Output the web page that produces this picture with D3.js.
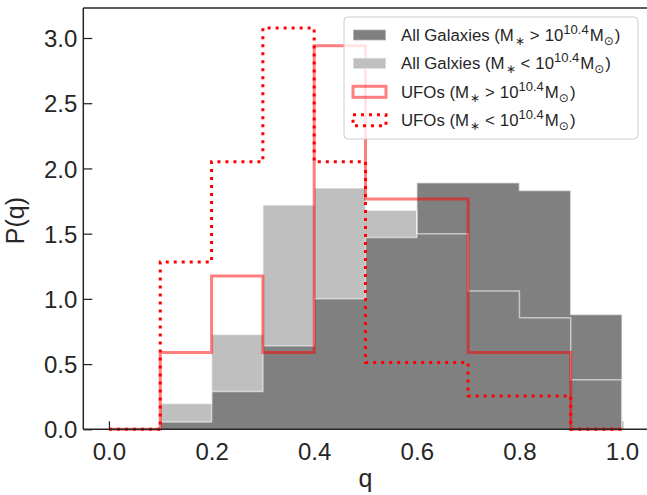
<!DOCTYPE html>
<html>
<head>
<meta charset="utf-8">
<script src="https://cdn.jsdelivr.net/npm/d3@7"></script>
<style>
  html, body { margin: 0; padding: 0; background: #fff; }
  svg { display: block; font-family: "Liberation Sans", Arial, sans-serif; }
</style>
</head>
<body>
<svg id="chart" width="647" height="495"></svg>
<script>
// Bin edges for q (axis ratio), width 0.1
const binEdges = [0, 0.1, 0.2, 0.3, 0.4, 0.5, 0.6, 0.7, 0.8, 0.9, 1.0];

// Normalised histograms P(q), one value per bin
const allGalaxiesHigh = [0, 0.056, 0.29, 0.64, 1.00, 1.47, 1.89, 1.89, 1.83, 0.88];
const allGalaxiesLow  = [0, 0.197, 0.727, 1.72, 1.85, 1.68, 1.50, 1.06, 0.855, 0.38];
const ufosHigh        = [0, 0.588, 1.176, 0.588, 2.941, 1.765, 1.765, 0.588, 0.588, 0];
const ufosLow         = [0, 1.282, 2.051, 3.077, 2.051, 0.513, 0.513, 0.256, 0.256, 0];

const xTicks = [0.0, 0.2, 0.4, 0.6, 0.8, 1.0];
const yTicks = [0.0, 0.5, 1.0, 1.5, 2.0, 2.5, 3.0];

const svg = d3.select("#chart");
const ink = "#262626";

const x = d3.scaleLinear().domain([-0.05, 1.05]).range([83.3, 647.7]);
const y = d3.scaleLinear().domain([0, 3.23]).range([429.3, 8]);

// Axes with inward ticks (drawn beneath the histograms)
const xAxis = svg.append("g")
  .attr("transform", `translate(0,${y(0)})`)
  .call(d3.axisBottom(x).tickValues(xTicks).tickFormat(d3.format(".1f"))
    .tickSizeInner(-8).tickSizeOuter(0).tickPadding(8));
const yAxis = svg.append("g")
  .attr("transform", `translate(${x.range()[0]},0)`)
  .call(d3.axisLeft(y).tickValues(yTicks).tickFormat(d3.format(".1f"))
    .tickSizeInner(-9).tickSizeOuter(0).tickPadding(6));
[xAxis, yAxis].forEach(g => {
  g.select(".domain").remove();
  g.selectAll(".tick line").attr("stroke", ink).attr("stroke-width", 1.25);
  g.selectAll(".tick text").attr("fill", ink).style("font-size", "24px")
    .style("font-family", "'Liberation Sans', Arial, sans-serif");
});
yAxis.selectAll(".tick text").attr("x", -6).attr("dy", "0.36em");
xAxis.selectAll(".tick text").attr("dy", "0.95em");

// Step path through the histogram bins, closed along the baseline
function stepPoints(vals) {
  const pts = [[binEdges[0], 0]];
  vals.forEach((v, i) => { pts.push([binEdges[i], v]); pts.push([binEdges[i + 1], v]); });
  pts.push([binEdges[binEdges.length - 1], 0]);
  return pts;
}
const line = d3.line().x(d => x(d[0])).y(d => y(d[1]));

const plot = svg.append("g");
// Filled galaxy histograms
plot.append("path").attr("d", line(stepPoints(allGalaxiesLow)) + "Z")
  .attr("fill", "#bfbfbf");
plot.append("path").attr("d", line(stepPoints(allGalaxiesHigh)) + "Z")
  .attr("fill", "#808080");
// Pale edges of the filled histograms
[allGalaxiesLow, allGalaxiesHigh].forEach(vals => {
  plot.append("path").attr("d", line(stepPoints(vals)))
    .attr("fill", "none").attr("stroke", "#ffffff").attr("stroke-opacity", 0.55)
    .attr("stroke-width", 1.5);
});
// UFO step outlines
plot.append("path").attr("d", line(stepPoints(ufosHigh)))
  .attr("fill", "none").attr("stroke", "red").attr("stroke-opacity", 0.5)
  .attr("stroke-width", 3);
plot.append("path").attr("d", line(stepPoints(ufosLow)))
  .attr("fill", "none").attr("stroke", "red")
  .attr("stroke-width", 3).attr("stroke-dasharray", "3,5");

// Spines
svg.append("line").attr("x1", x.range()[0]).attr("x2", 647)
  .attr("y1", y(0)).attr("y2", y(0)).attr("stroke", ink).attr("stroke-width", 1.5);
svg.append("line").attr("x1", x.range()[0]).attr("x2", 647)
  .attr("y1", 8).attr("y2", 8).attr("stroke", ink).attr("stroke-width", 1.5);
svg.append("line").attr("x1", x.range()[0]).attr("x2", x.range()[0])
  .attr("y1", 8).attr("y2", y(0)).attr("stroke", ink).attr("stroke-width", 1.5);

// Axis titles
svg.append("text").attr("x", x(0.5)).attr("y", 487).attr("text-anchor", "middle")
  .attr("fill", ink).style("font-size", "25px").text("q");
svg.append("text").attr("transform", `translate(24,${y(1.6)}) rotate(-90)`)
  .attr("text-anchor", "middle").attr("fill", ink).style("font-size", "25px").text("P(q)");

// Legend
const legendItems = [
  { pre: "All Galaxies", rel: ">", kind: "fill", color: "#808080" },
  { pre: "All Galxies", rel: "<", kind: "fill", color: "#bfbfbf" },
  { pre: "UFOs", rel: ">", kind: "solid" },
  { pre: "UFOs", rel: "<", kind: "dotted" }
];
const legend = svg.append("g");
legend.append("rect").attr("x", 344).attr("y", 17).attr("width", 294).attr("height", 122)
  .attr("rx", 4).attr("fill", "#ffffff").attr("fill-opacity", 0.8)
  .attr("stroke", "#cccccc").attr("stroke-width", 1);
legendItems.forEach((d, i) => {
  const cy = 35 + i * 28.4;
  const g = legend.append("g");
  const r = g.append("rect").attr("x", 353).attr("y", cy - 5.5).attr("width", 33).attr("height", 11);
  if (d.kind === "fill") {
    r.attr("fill", d.color).attr("stroke", "#ffffff").attr("stroke-opacity", 0.55).attr("stroke-width", 1.5);
  } else if (d.kind === "solid") {
    r.attr("fill", "none").attr("stroke", "red").attr("stroke-opacity", 0.5).attr("stroke-width", 3);
  } else {
    r.attr("fill", "none").attr("stroke", "red").attr("stroke-width", 3).attr("stroke-dasharray", "3,5");
  }
  const t = g.append("text").attr("x", 401).attr("y", cy + 6).attr("fill", ink)
    .style("font-size", "16.8px");
  t.append("tspan").text(d.pre + " (M");
  t.append("tspan").attr("dx", 1).attr("dy", 4).style("font-size", "12px").text("\u2217");
  t.append("tspan").attr("dx", 5).attr("dy", -4).text(d.rel);
  t.append("tspan").attr("dx", 5).text("10");
  t.append("tspan").attr("dy", -7).style("font-size", "13px").text("10.4");
  t.append("tspan").attr("dx", 1).attr("dy", 7).text("M");
  t.append("tspan").attr("dy", 4).style("font-size", "12px")
    .style("font-family", "'DejaVu Sans', sans-serif").text("\u2299");
  t.append("tspan").attr("dx", 1).attr("dy", -4).text(")");
});
</script>
</body>
</html>
